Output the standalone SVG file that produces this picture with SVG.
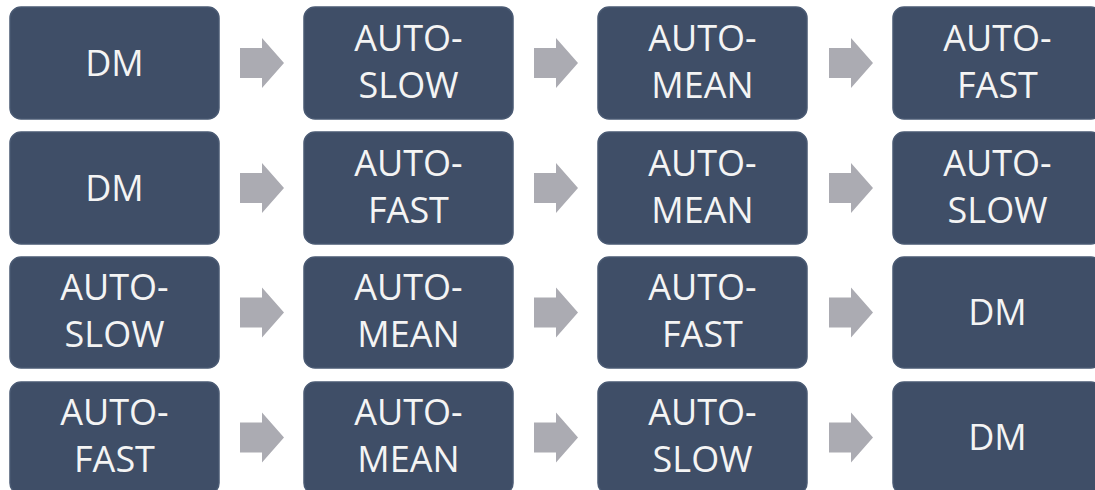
<svg xmlns="http://www.w3.org/2000/svg" width="1095" height="490" viewBox="0 0 1095 490">
<defs>
<style>
.box{fill:#3F4E67;stroke:#4A5A73;stroke-width:1.5}
.t{font-family:"Open Sans","Liberation Sans",sans-serif;font-size:36px;fill:#F4F4F4;text-anchor:middle}
.arr{fill:#ABABB2}
</style>
<path id="a" d="M0,-15 H22 V-25 L44,0 L22,25 V15 H0 Z"/>
</defs>
<rect width="1095" height="490" fill="#FFFFFF"/>
<g id="connectors" class="arr">
<use href="#a" x="240" y="63"/><use href="#a" x="534" y="63"/><use href="#a" x="829" y="63"/>
<use href="#a" x="240" y="188"/><use href="#a" x="534" y="188"/><use href="#a" x="829" y="188"/>
<use href="#a" x="240" y="312.5"/><use href="#a" x="534" y="312.5"/><use href="#a" x="829" y="312.5"/>
<use href="#a" x="240" y="437.5"/><use href="#a" x="534" y="437.5"/><use href="#a" x="829" y="437.5"/>
</g>
<g id="r1c1"><rect class="box" x="10" y="7" width="209" height="112" rx="11"/><text class="t" x="114.5" y="76">DM</text></g>
<g id="r1c2"><rect class="box" x="304" y="7" width="209" height="112" rx="11"/><text class="t" x="408.5" y="51">AUTO-</text><text class="t" x="408.5" y="98">SLOW</text></g>
<g id="r1c3"><rect class="box" x="598" y="7" width="209" height="112" rx="11"/><text class="t" x="702.5" y="51">AUTO-</text><text class="t" x="702.5" y="98">MEAN</text></g>
<g id="r1c4"><rect class="box" x="893" y="7" width="209" height="112" rx="11"/><text class="t" x="997.5" y="51">AUTO-</text><text class="t" x="997.5" y="98">FAST</text></g>

<g id="r2c1"><rect class="box" x="10" y="132" width="209" height="112" rx="11"/><text class="t" x="114.5" y="201">DM</text></g>
<g id="r2c2"><rect class="box" x="304" y="132" width="209" height="112" rx="11"/><text class="t" x="408.5" y="176">AUTO-</text><text class="t" x="408.5" y="223">FAST</text></g>
<g id="r2c3"><rect class="box" x="598" y="132" width="209" height="112" rx="11"/><text class="t" x="702.5" y="176">AUTO-</text><text class="t" x="702.5" y="223">MEAN</text></g>
<g id="r2c4"><rect class="box" x="893" y="132" width="209" height="112" rx="11"/><text class="t" x="997.5" y="176">AUTO-</text><text class="t" x="997.5" y="223">SLOW</text></g>

<g id="r3c1"><rect class="box" x="10" y="257" width="209" height="111" rx="11"/><text class="t" x="114.5" y="300">AUTO-</text><text class="t" x="114.5" y="347">SLOW</text></g>
<g id="r3c2"><rect class="box" x="304" y="257" width="209" height="111" rx="11"/><text class="t" x="408.5" y="300">AUTO-</text><text class="t" x="408.5" y="347">MEAN</text></g>
<g id="r3c3"><rect class="box" x="598" y="257" width="209" height="111" rx="11"/><text class="t" x="702.5" y="300">AUTO-</text><text class="t" x="702.5" y="347">FAST</text></g>
<g id="r3c4"><rect class="box" x="893" y="257" width="209" height="111" rx="11"/><text class="t" x="997.5" y="325">DM</text></g>

<g id="r4c1"><rect class="box" x="10" y="382" width="209" height="112" rx="11"/><text class="t" x="114.5" y="425">AUTO-</text><text class="t" x="114.5" y="472">FAST</text></g>
<g id="r4c2"><rect class="box" x="304" y="382" width="209" height="112" rx="11"/><text class="t" x="408.5" y="425">AUTO-</text><text class="t" x="408.5" y="472">MEAN</text></g>
<g id="r4c3"><rect class="box" x="598" y="382" width="209" height="112" rx="11"/><text class="t" x="702.5" y="425">AUTO-</text><text class="t" x="702.5" y="472">SLOW</text></g>
<g id="r4c4"><rect class="box" x="893" y="382" width="209" height="112" rx="11"/><text class="t" x="997.5" y="450">DM</text></g>
</svg>
